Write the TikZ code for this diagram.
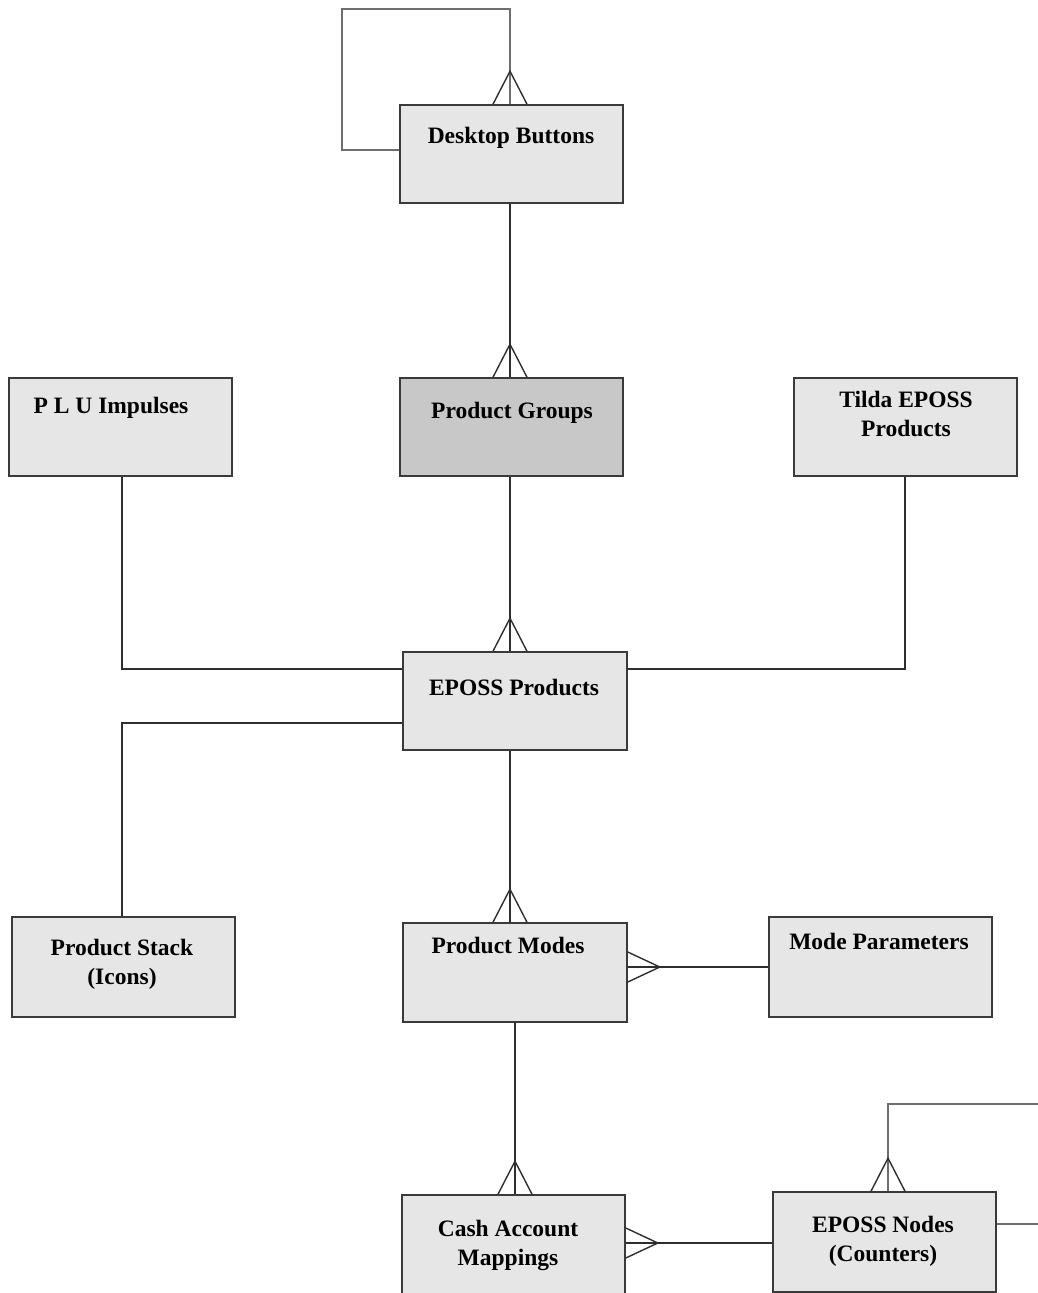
\documentclass[tikz,border=0pt]{standalone}
\usepackage{fontspec}
\setmainfont{Liberation Serif}
\usetikzlibrary{calc}

\definecolor{boxfill}{HTML}{E6E6E6}
\definecolor{boxdark}{HTML}{C8C8C8}
\definecolor{boxedge}{HTML}{3A3A3A}
\definecolor{linkline}{HTML}{2E2E2E}
\definecolor{loopline}{HTML}{6E6E6E}

\tikzset{
  entity/.style={draw=boxedge, line width=1.6pt, fill=boxfill, inner sep=0pt,
                 minimum width=223pt, minimum height=98pt},
  entitydark/.style={entity, fill=boxdark},
  tall/.style={minimum height=100pt},
  % multi-line names sit on the baseline of their last line
  label/.style={font=\fontsize{23.5}{29}\selectfont\bfseries, inner sep=0pt,
                anchor=base, align=center, text=black},
  link/.style={draw=linkline, line width=1.4pt},
  selflink/.style={draw=loopline, line width=1.3pt},
  % crow's foot: apex at (0,33), feet on the box edge
  crowfoot/.pic={\draw[link] (-17,0) -- (0,33) -- (17,0);},
  crowside/.pic={\draw[link] (-15,0) -- (0,32) -- (15,0);},
}

\begin{document}
\begin{tikzpicture}[x=1pt,y=1pt]
\useasboundingbox (0,0) rectangle (1038,-1293);

% entities
\node[entity]     (db)    at (511.5,-154)   {};
\node[entitydark] (pg)    at (511.5,-427)   {};
\node[entity]     (plu)   at (120.5,-427)   {};
\node[entity]     (tilda) at (905.5,-427)   {};
\node[entity, minimum width=224pt] (ep) at (515,-701) {};
\node[entity, tall] (ps)  at (123.5,-967)   {};
\node[entity, minimum width=224pt, minimum height=99pt] (pm) at (515,-972.5) {};
\node[entity, tall] (mp)  at (880.5,-967)   {};
\node[entity, minimum height=99pt] (cam) at (513.5,-1244.5) {};
\node[entity, tall] (en)  at (884.5,-1242)  {};

% entity names
\node[label] (tdb)    at (511,-143)  {Desktop Buttons};
\node[label] (tpg)    at (512,-418)  {Product Groups};
\node[label] (tplu)   at (111,-413)  {P L U Impulses};
\node[label] (ttilda) at (906,-436)  {Tilda EPOSS\\Products};
\node[label] (tep)    at (514,-695)  {EPOSS Products};
\node[label] (tps)    at (122,-984)  {Product Stack\\(Icons)};
\node[label] (tpm)    at (508,-953)  {Product Modes};
\node[label] (tmp)    at (879,-949)  {Mode Parameters};
\node[label] (tcam)   at (508,-1265) {Cash Account\\Mappings};
\node[label] (ten)    at (883,-1261) {EPOSS Nodes\\(Counters)};

% Desktop Buttons refers to itself
\coordinate (dbtop) at ($(db.north)+(-1.5,0)$);
\coordinate (dbloop) at (342,-9);
\draw[selflink] ($(db.west)+(0,4)$) -| (dbloop) -| (dbtop);
\pic at (dbtop) {crowfoot};

% Desktop Buttons -> Product Groups
\coordinate (pgtop) at ($(pg.north)+(-1.5,0)$);
\draw[link] ($(db.south)+(-1.5,0)$) -- (pgtop);
\pic at (pgtop) {crowfoot};

% Product Groups -> EPOSS Products
\coordinate (eptop) at ($(ep.north)+(-5,0)$);
\draw[link] ($(pg.south)+(-1.5,0)$) -- (eptop);
\pic at (eptop) {crowfoot};

% PLU Impulses and Tilda EPOSS Products -> EPOSS Products
\draw[link] ($(plu.south)+(1.5,0)$) |- ($(ep.west)+(0,32)$);
\draw[link] ($(tilda.south)+(-0.5,0)$) |- ($(ep.east)+(0,32)$);

% EPOSS Products -> Product Stack
\draw[link] ($(ep.west)+(0,-22)$) -| ($(ps.north)+(-1.5,0)$);

% EPOSS Products -> Product Modes
\coordinate (pmtop) at ($(pm.north)+(-5,0)$);
\draw[link] ($(ep.south)+(-5,0)$) -- (pmtop);
\pic at (pmtop) {crowfoot};

% Mode Parameters -> Product Modes
\coordinate (pmside) at (pm.east |- mp.west);
\draw[link] (mp.west) -- (pmside);
\pic[rotate=-90] at (pmside) {crowside};

% Product Modes -> Cash Account Mappings
\coordinate (camtop) at (pm.south |- cam.north);
\draw[link] (pm.south) -- (camtop);
\pic at (camtop) {crowfoot};

% EPOSS Nodes -> Cash Account Mappings
\coordinate (camside) at ($(cam.east |- en.west)+(0,-1)$);
\draw[link] ($(en.west)+(0,-1)$) -- (camside);
\pic[rotate=-90] at (camside) {crowside};

% EPOSS Nodes refers to itself
\coordinate (entop) at ($(en.north)+(3.5,0)$);
\coordinate (enloop) at (1045,-1104);
\draw[selflink] (entop) |- (enloop);
\draw[selflink] ($(en.east)+(0,18)$) -- ++(50,0);
\pic at (entop) {crowfoot};
\end{tikzpicture}
\end{document}
